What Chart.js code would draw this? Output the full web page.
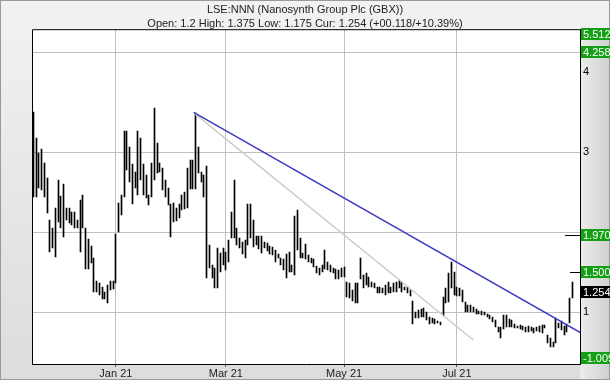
<!DOCTYPE html>
<html>
<head>
<meta charset="utf-8">
<script src="https://cdn.jsdelivr.net/npm/chart.js@4.4.0/dist/chart.umd.min.js"></script>
<style>
  html, body { margin: 0; padding: 0; }
  body { width: 610px; height: 380px; overflow: hidden; background: #e4e4e4; }
</style>
</head>
<body>
<canvas id="chart" width="610" height="380"></canvas>
<script>
// one bar per trading day, index 0 = 18 Nov 2020
var highs = [
  3.51,3.18,2.99,3.04,2.86,2.68,2.15,2.05,2.30,2.65,
  2.45,2.60,2.30,2.30,2.25,2.25,2.15,2.40,2.46,2.05,
  1.91,1.83,1.68,1.39,1.36,1.31,1.25,1.34,1.39,1.39,
  1.98,2.36,2.46,3.26,3.26,3.06,2.85,2.75,3.26,3.18,
  2.85,2.71,2.46,2.86,3.56,3.11,2.86,2.80,2.65,2.55,
  2.35,2.36,2.30,2.35,2.46,2.50,2.80,2.90,2.90,3.49,
  3.06,2.75,2.71,2.83,1.84,1.59,1.55,1.80,1.74,1.80,
  1.75,1.90,2.25,2.65,2.05,1.93,1.88,1.90,2.35,2.35,
  2.15,1.95,1.95,1.95,1.88,1.86,1.83,1.81,1.78,1.73,
  1.68,1.66,1.73,1.75,1.59,2.20,2.28,1.93,1.74,
  1.85,1.71,1.68,1.66,1.58,1.55,1.59,1.78,1.63,1.59,1.55,1.54,1.53,1.55,1.56,
  1.38,1.36,1.27,1.36,1.36,1.68,1.46,1.49,1.44,1.38,1.36,1.31,
  1.31,1.30,1.34,1.38,1.31,1.36,1.38,1.40,1.38,1.31,1.31,1.28,
  1.14,1.00,1.03,1.04,1.05,1.00,0.94,0.93,0.91,0.89,0.88,
  1.19,1.30,1.49,1.63,1.50,1.31,1.30,1.28,1.13,
  1.09,1.09,1.06,1.04,1.01,1.01,1.00,0.98,0.96,0.94,
  0.90,0.81,0.81,0.96,
  0.96,0.91,0.90,0.85,0.83,0.84,0.83,0.81,0.82,0.81,0.80,0.81,0.82,0.84,0.84,
  0.71,0.68,0.63,0.93,0.86,0.89,0.83,0.85,1.18,1.375
];
var lows = [
  2.44,2.44,2.55,2.53,2.44,2.24,1.75,1.80,1.69,2.13,
  2.05,1.94,2.15,2.11,2.09,2.05,2.05,1.75,2.05,1.54,
  1.54,1.61,1.25,1.25,1.21,1.16,1.16,1.11,1.28,1.29,
  1.36,2.00,2.21,2.44,2.78,2.63,2.35,2.55,2.46,2.65,
  2.46,2.43,2.34,2.44,2.65,2.74,2.75,2.53,2.44,2.34,
  1.94,2.13,2.14,2.18,2.28,2.29,2.30,2.54,2.54,2.54,
  2.74,2.63,2.44,1.43,1.55,1.43,1.30,1.30,1.50,1.59,
  1.53,1.63,1.93,1.93,1.84,1.80,1.73,1.68,1.84,1.93,
  1.81,1.84,1.79,1.74,1.80,1.76,1.73,1.71,1.63,1.68,
  1.59,1.53,1.43,1.50,1.50,1.46,1.78,1.68,1.68,
  1.66,1.63,1.61,1.57,1.49,1.46,1.50,1.54,1.53,1.50,1.49,1.41,1.41,1.44,1.44,
  1.19,1.18,1.14,1.11,1.11,1.41,1.30,1.34,1.31,1.31,1.30,1.24,
  1.24,1.24,1.21,1.24,1.24,1.25,1.25,1.30,1.25,1.28,1.24,1.20,
  0.85,0.93,0.93,0.94,0.94,0.90,0.85,0.86,0.85,0.86,0.84,
  0.95,1.11,1.13,1.30,1.21,1.20,1.20,1.13,1.00,
  1.00,1.00,1.00,0.98,0.98,0.96,0.96,0.94,0.91,0.88,
  0.81,0.75,0.68,0.79,
  0.81,0.81,0.81,0.80,0.80,0.79,0.78,0.75,0.75,0.76,0.74,0.76,0.75,0.74,0.80,
  0.61,0.56,0.56,0.61,0.80,0.78,0.71,0.75,0.86,1.175
];

// first trading day of each labelled month (bar index)
var monthStart = [30, 70, 113, 154];
var monthLabels = ["Jan 21", "Mar 21", "May 21", "Jul 21"];

// trend lines [barIndex, price]
var blueTrend = [[58.3, 3.50], [199.1, 0.74]];
var greyTrend = [[58.8, 3.48], [160, 0.65]];

// price levels on the right
var levelValues = [5.512, 4.258, 1.970, 1.500, 1.254, -1.009];
var levelLabels = ["5.512", "4.258", "1.970", "1.500", "1.254", "-1.009"];
var levelColors = ["#14a014", "#14a014", "#14a014", "#14a014", "#000000", "#14a014"];

var gridValues = [1, 2, 3];
var yLabelValues = [1, 3, 4];

Chart.defaults.font.family = "'Liberation Sans', Arial, sans-serif";
Chart.defaults.font.size = 11;
Chart.defaults.color = "#222";

var bars = highs.map(function(h, i) { return { x: i, y: [lows[i], h] }; });

var backdrop = {
  id: "backdrop",
  beforeDraw: function(chart) {
    var ctx = chart.ctx, a = chart.chartArea, w = chart.width, h = chart.height;
    ctx.save();
    var g = ctx.createLinearGradient(0, 0, 0, h);
    g.addColorStop(0, "#f2f2f2");
    g.addColorStop(1, "#dcdcdc");
    ctx.fillStyle = g;
    ctx.fillRect(0, 0, w, h);
    var g2 = ctx.createLinearGradient(a.right, 0, w, 0);
    g2.addColorStop(0, "#ececec");
    g2.addColorStop(1, "#cfcfcf");
    ctx.fillStyle = g2;
    ctx.fillRect(a.right, a.top, w - a.right, h - a.top);
    ctx.strokeStyle = "#9a9a9a";
    ctx.lineWidth = 1;
    ctx.strokeRect(0.5, 0.5, w - 1, h - 1);
    ctx.fillStyle = "#fff";
    ctx.fillRect(a.left, a.top, a.right - a.left, a.bottom - a.top);
    ctx.restore();
  },
  beforeDatasetsDraw: function(chart) {
    var ctx = chart.ctx, a = chart.chartArea, y = chart.scales.y;
    // snap the 1px price bars to whole pixels so they stay crisp
    chart.getDatasetMeta(2).data.forEach(function(el) {
      el.x = Math.floor(el.x) + 0.5;
      el.y = Math.round(el.y);
      el.base = Math.round(el.base);
    });
    ctx.save();
    // line at 4.258
    var p = Math.round(y.getPixelForValue(levelValues[1])) + 0.5;
    ctx.strokeStyle = "#bdbdbd";
    ctx.beginPath(); ctx.moveTo(a.left, p); ctx.lineTo(a.right, p); ctx.stroke();
    // short markers at 1.970 and 1.500
    ctx.strokeStyle = "#000";
    p = Math.round(y.getPixelForValue(levelValues[2])) + 0.5;
    ctx.beginPath(); ctx.moveTo(a.right - 15, p); ctx.lineTo(a.right, p); ctx.stroke();
    p = Math.round(y.getPixelForValue(levelValues[3])) + 0.5;
    ctx.beginPath(); ctx.moveTo(a.right - 10, p); ctx.lineTo(a.right, p); ctx.stroke();
    ctx.restore();
  },
  afterDraw: function(chart) {
    var ctx = chart.ctx, a = chart.chartArea, y = chart.scales.y;
    ctx.save();
    ctx.strokeStyle = "#000";
    ctx.lineWidth = 1;
    ctx.beginPath();
    ctx.moveTo(a.left + 0.5, a.bottom);
    ctx.lineTo(a.left + 0.5, a.top + 0.5);
    ctx.lineTo(a.right, a.top + 0.5);
    ctx.stroke();
    ctx.font = "11px 'Liberation Sans', Arial, sans-serif";
    ctx.textBaseline = "middle";
    ctx.textAlign = "left";
    var prev = -100;
    for (var i = 0; i < levelValues.length; i++) {
      var c = y.getPixelForValue(levelValues[i]);
      c = Math.max(a.top + 5, Math.min(a.bottom - 6, c));
      if (c - prev < 13) c = prev + 13;
      c = Math.round(c);
      prev = c;
      ctx.fillStyle = levelColors[i];
      ctx.fillRect(a.right + 1, c - 6, chart.width - a.right - 1, 12);
      ctx.fillStyle = "#fff";
      ctx.fillText(levelLabels[i], a.right + 3, c + 0.5);
    }
    ctx.restore();
  }
};

new Chart(document.getElementById("chart"), {
  type: "bar",
  data: {
    datasets: [
      {
        type: "line",
        data: blueTrend.map(function(p) { return { x: p[0], y: p[1] }; }),
        borderColor: "#3a3ac4",
        borderWidth: 1.5,
        pointRadius: 0,
        order: 0
      },
      {
        type: "line",
        data: greyTrend.map(function(p) { return { x: p[0], y: p[1] }; }),
        borderColor: "#cdcdc2",
        borderWidth: 1.5,
        pointRadius: 0,
        order: 0
      },
      {
        type: "bar",
        data: bars,
        backgroundColor: "#000",
        borderWidth: 0,
        barThickness: 1,
        order: 1
      }
    ]
  },
  options: {
    responsive: false,
    animation: false,
    layout: { padding: 0 },
    plugins: {
      legend: { display: false },
      tooltip: { enabled: false },
      title: {
        display: true,
        text: "LSE:NNN (Nanosynth Group Plc (GBX))",
        color: "#222",
        font: { size: 11, weight: "normal", lineHeight: 1.2 },
        padding: { top: 3, bottom: 2 }
      },
      subtitle: {
        display: true,
        text: "Open: 1.2 High: 1.375 Low: 1.175 Cur: 1.254 (+00.118/+10.39%)",
        color: "#222",
        font: { size: 11, weight: "normal", lineHeight: 1 },
        padding: { top: 0, bottom: 0 }
      }
    },
    scales: {
      x: {
        type: "linear",
        min: -0.5,
        max: 198.8,
        offset: false,
        afterBuildTicks: function(axis) {
          axis.ticks = monthStart.map(function(v) { return { value: v }; });
        },
        afterFit: function(axis) { axis.height = 16; },
        ticks: {
          autoSkip: false,
          maxRotation: 0,
          padding: 0,
          color: "#222",
          callback: function(v, i) { return monthLabels[i]; }
        },
        grid: { offset: false, color: "#c0c0c0", tickColor: "#555", tickLength: 3 },
        border: { color: "#000" }
      },
      y: {
        type: "linear",
        position: "right",
        min: 0.35,
        max: 4.54,
        afterFit: function(axis) { axis.width = 30; },
        ticks: {
          stepSize: 0.5,
          padding: 3,
          color: "#000",
          callback: function(v) { return yLabelValues.indexOf(v) >= 0 ? String(v) : ""; }
        },
        grid: {
          drawTicks: false,
          color: function(ctx) {
            return ctx.tick && gridValues.indexOf(ctx.tick.value) >= 0 ? "#c0c0c0" : "rgba(0,0,0,0)";
          }
        },
        border: { color: "#000" }
      },
      yLeft: {
        position: "left",
        afterFit: function(axis) { axis.width = 32; },
        ticks: { display: false },
        grid: { display: false },
        border: { display: false }
      }
    }
  },
  plugins: [backdrop]
});
</script>
</body>
</html>
